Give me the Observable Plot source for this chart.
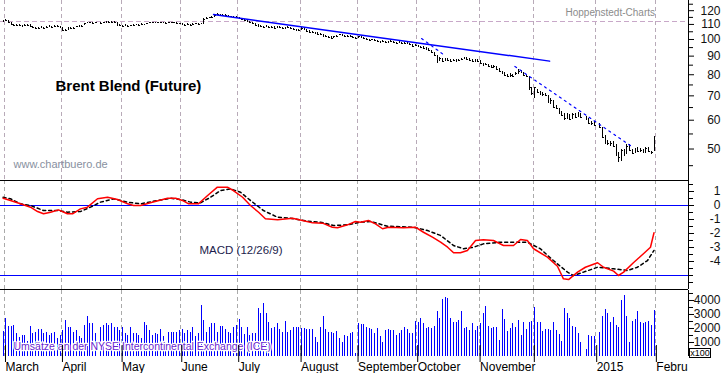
<!DOCTYPE html>
<html><head><meta charset="utf-8">
<script src="https://cdn.jsdelivr.net/npm/d3@7"></script>
<script src="https://cdn.jsdelivr.net/npm/@observablehq/plot@0.6"></script>
<style>
body{margin:0;background:#fff;}
#chart{position:relative;width:723px;height:373px;overflow:hidden;font-family:"Liberation Sans",Arial,sans-serif;background:#fff;}
#chart svg{position:absolute;left:0;overflow:visible;}
#chart svg line{shape-rendering:crispEdges;}
#x100{position:absolute;left:689px;top:348px;width:20px;height:8px;border:1px solid #000;font:9px "Liberation Sans",Arial,sans-serif;line-height:8px;text-align:center;background:#fff;color:#000;}
</style></head><body><div id="chart"></div><script>
// ---- data (one entry per weekday, 2014-02-28 .. 2015-01-30) ----
const closes = [
112.0,112.8,111.3,109.9,109.2,109.6,109.2,108.9,109.2,109.6,
108.9,107.9,107.5,107.2,107.9,107.5,108.2,108.6,108.2,108.6,
108.6,107.9,105.8,106.1,107.2,107.5,107.5,108.6,108.9,108.9,
110.6,111.0,111.3,110.6,111.3,null,110.6,111.0,111.3,111.7,
111.5,111.3,109.6,109.2,108.9,109.2,108.9,109.2,109.6,109.7,
109.6,109.9,109.7,110.6,111.0,111.3,111.0,111.3,111.0,111.3,
110.8,111.3,111.0,111.3,110.4,110.3,109.9,109.6,109.9,109.6,
109.9,110.3,109.9,110.3,113.5,114.2,114.6,115.0,116.4,117.1,
116.8,116.4,116.1,115.7,115.3,115.0,114.6,114.2,113.5,112.8,
112.0,111.0,110.3,109.6,108.6,108.9,108.2,108.6,107.9,108.2,
107.5,108.2,107.9,107.2,107.5,107.9,107.5,106.5,105.8,106.1,
107.2,106.5,105.5,104.8,104.5,103.8,103.5,102.9,102.2,101.9,
101.3,100.9,101.6,102.2,102.9,102.6,101.9,102.2,101.6,101.3,
100.9,101.6,101.0,100.6,100.0,99.4,99.7,99.1,98.7,98.4,
98.7,98.1,98.4,98.7,98.1,97.8,98.1,97.5,97.8,97.2,
96.6,95.7,96.3,95.7,95.1,94.5,93.9,93.3,92.1,90.3,
87.5,88.7,86.9,88.1,87.5,86.9,87.5,86.9,87.5,88.1,
88.7,88.1,87.5,86.9,87.5,86.9,85.9,84.8,85.4,84.3,
83.7,84.3,82.7,81.6,80.6,79.6,79.1,79.6,79.1,80.5,
81.8,80.9,79.5,78.9,73.7,71.2,73.6,71.6,71.0,70.7,
70.1,67.2,67.8,65.2,64.6,62.8,62.0,60.8,62.1,60.2,
62.3,61.0,62.6,61.1,null,60.3,58.7,58.8,58.2,null,
57.3,53.9,51.9,51.9,51.7,50.9,48.1,47.3,49.4,48.4,
50.9,49.6,48.7,49.8,49.2,49.5,48.9,50.3,49.2,48.9,53.8];
const highs = [
112.6,113.4,112.9,111.2,109.9,110.1,109.8,109.6,109.8,110.1,
109.7,108.8,108.1,107.9,108.3,108.1,108.7,109.0,108.8,109.1,
109.0,108.4,107.6,106.7,107.6,107.9,108.0,108.9,109.4,109.3,
110.9,111.5,111.7,111.3,111.7,null,111.2,111.4,111.8,112.1,
112.0,111.9,111.3,109.8,109.5,109.7,109.5,109.6,110.0,110.2,
110.2,110.3,110.2,110.9,111.4,111.7,111.6,111.7,111.5,111.7,
111.5,111.7,111.5,111.7,111.3,110.8,110.5,110.1,110.3,110.1,
110.3,110.7,110.5,110.8,113.9,114.8,115.2,115.4,116.9,117.7,
117.4,117.0,116.8,116.3,115.9,115.6,115.3,114.9,114.3,113.6,
112.9,112.1,111.1,110.5,109.8,109.4,108.9,109.1,108.5,108.7,
108.3,108.6,108.5,108.0,107.9,108.3,108.1,107.4,106.6,106.6,
107.6,107.3,106.6,105.6,105.1,104.6,104.2,103.7,103.0,102.6,
102.1,101.6,101.9,102.6,103.3,103.2,102.7,102.6,102.3,101.9,
101.5,101.9,101.8,101.2,100.7,100.2,100.2,99.8,99.3,99.0,
99.1,98.9,98.8,99.2,98.8,98.4,98.6,98.2,98.3,98.0,
97.5,96.8,96.7,96.5,95.9,95.4,94.8,94.2,93.5,92.3,
90.5,89.4,88.8,88.9,88.6,88.2,88.1,88.0,88.2,88.8,
89.3,89.2,88.5,88.0,88.1,88.0,87.3,86.0,86.0,85.5,
84.8,84.9,84.5,83.0,81.9,80.9,80.3,80.4,80.2,81.2,
82.6,82.3,81.2,79.8,78.9,73.9,73.9,73.0,72.0,71.6,
71.0,70.2,68.7,67.8,66.0,64.7,63.6,62.6,62.6,62.3,
62.7,62.6,63.0,62.6,null,61.5,60.6,59.6,59.4,null,
58.8,57.2,54.3,52.9,52.6,52.5,51.3,48.8,49.9,49.8,
51.6,51.4,50.0,50.2,50.5,50.3,49.9,50.6,50.4,49.3,54.0];
const lows = [
111.5,111.9,110.9,109.5,108.8,109.1,108.8,108.5,108.7,109.1,
108.6,107.5,107.0,106.8,107.3,107.1,107.7,108.1,107.8,108.2,
108.1,107.5,105.2,105.5,106.1,107.0,107.0,107.6,108.4,108.4,
109.0,110.4,110.7,110.2,110.6,null,110.2,110.5,110.8,111.1,
111.0,110.8,109.2,108.7,108.4,108.7,108.5,108.7,109.1,109.3,
109.2,109.4,109.3,109.7,110.5,110.8,110.6,110.9,110.6,110.9,
110.4,110.8,110.6,110.9,110.0,109.8,109.5,109.2,109.5,109.2,
109.5,109.8,109.5,109.8,110.2,113.6,114.0,114.5,115.1,116.3,
116.2,115.9,115.6,115.2,114.8,114.6,114.1,113.7,113.0,112.3,
111.6,110.6,109.9,109.2,108.2,108.4,107.8,108.0,107.5,107.7,
107.0,107.5,107.4,106.8,107.0,107.4,107.0,106.1,105.3,105.5,
106.0,106.1,105.1,104.3,104.0,103.3,103.0,102.4,101.7,101.4,
100.8,100.4,100.9,101.6,102.3,102.1,101.5,101.7,101.1,100.8,
100.4,100.9,100.6,100.1,99.5,98.9,99.2,98.7,98.2,97.9,
98.2,97.6,97.9,98.2,97.6,97.3,97.5,97.0,97.3,96.7,
96.0,95.2,95.6,95.2,94.6,93.9,93.3,92.5,91.5,89.6,
86.0,86.8,86.3,86.9,86.9,86.3,86.8,86.4,86.9,87.4,
87.9,87.5,86.9,86.3,86.7,86.3,85.2,84.2,84.6,83.6,
83.0,83.4,82.0,81.0,80.0,79.0,78.4,78.8,78.5,79.4,
79.9,80.5,79.0,78.4,72.5,70.0,68.8,71.0,70.3,69.8,
69.6,66.9,66.3,64.9,64.2,62.4,61.4,59.9,60.3,59.8,
60.1,60.6,60.9,60.8,null,59.9,58.4,58.0,57.8,null,
56.9,53.7,51.6,51.0,50.9,50.6,47.8,46.0,46.3,47.6,
48.4,49.3,48.3,48.6,48.9,48.9,48.6,48.6,48.9,48.3,49.2];
const volumes = [
1810,2690,2170,2170,2210,1620,1380,1500,1500,1100,
2140,1620,1740,1900,1900,1620,1740,1500,1670,1740,
1260,1500,1860,2570,2100,2100,1740,1860,1400,1300,
2210,2860,2330,2330,1620,0,2100,2210,2330,2200,
2380,2070,2070,1860,2100,1670,1500,2100,1620,1670,
1500,1300,2450,2210,1860,1500,1620,1570,1900,1400,
900,1740,1740,1740,1740,1860,1900,1670,1860,1740,
2070,1450,1620,3640,2570,1740,2100,2380,2380,1740,
2140,2140,1900,1740,1620,2100,2210,2640,2100,1600,
2100,1500,1650,1620,3400,3050,3760,3050,2450,1980,
2100,2330,1900,1740,2500,1740,1860,2100,2100,2100,
1980,1980,1900,1900,1900,1380,1000,2100,2860,1900,
1740,1740,1620,1760,1260,1020,1500,1440,1620,1740,
240,2330,2300,2290,2100,1980,1900,1670,1980,1400,
1020,1860,1900,1860,1860,1500,1670,1860,2070,1900,
1620,1620,2500,2450,2740,2330,1980,2100,1980,2170,
3190,2740,4050,4190,4120,2740,2450,2450,2570,3210,
1980,2100,1860,2330,1860,2140,2330,3100,3570,2140,
1980,2100,2100,1140,3380,2640,1790,1980,2330,2100,
2570,1500,2450,1930,2450,2500,3520,2450,2450,1790,
1900,1900,1860,2400,1860,1570,1070,3450,3100,2740,
2170,2100,1620,1020,0,500,1500,1450,1450,0,
1740,2880,3380,3100,2450,2810,2210,2100,4000,4380,
2880,1020,2500,2640,3220,2450,2330,2450,2500,2210,3260];
// MACD (12/26/9): day index -> value
const macdIdx = [0,2.7,6.4,10.1,12.7,14.9,17.5,20.4,23.7,25.6,28.5,31.1,34.8,38.5,42.2,45.9,48.1,50.7,54.3,60.6,63.6,66.1,68.4,72.0,75.4,79.0,82.7,84.9,88.3,91.2,94.2,96.7,101.2,106.7,110.4,114.1,117.8,121.4,123.3,127.0,129.9,131.8,134.7,137.3,139.9,142.1,147.6,152.0,155.0,158.3,161.3,163.9,166.1,168.6,171.2,174.2,177.1,180.8,184.5,188.2,190.8,193.3,195.6,200.7,204.4,206.6,208.5,211.8,214.7,219.2,221.4,225.1,226.9,228.8,232.4,236.1,238.7,240];
const macdVals = [0.52,0.36,0.12,-0.12,-0.43,-0.59,-0.48,-0.31,-0.59,-0.59,-0.24,-0.12,0.48,0.59,0.43,0.12,0,0,0.19,0.52,0.52,0.36,0.12,0.12,0.71,1.31,1.31,1.07,0.59,0,-0.48,-0.95,-1.02,-0.91,-1.07,-1.24,-1.26,-1.55,-1.59,-1.38,-1.14,-1.19,-1.07,-1.31,-1.66,-1.55,-1.59,-1.55,-1.91,-2.26,-2.62,-2.98,-3.38,-3.38,-3.21,-2.5,-2.45,-2.5,-2.86,-2.86,-2.43,-2.5,-3.09,-3.69,-4.34,-5.24,-5.29,-4.76,-4.41,-4.09,-4.41,-4.69,-5.0,-4.76,-4.09,-3.45,-2.98,-1.95];
const sigIdx = [0,2.7,6.4,10.1,14.9,20.4,23.7,28.5,32.2,35.9,40.7,45.9,50.7,56.9,61.7,65.4,69.1,72.8,76.5,80.2,83.8,87.5,91.2,96.0,101.2,106.0,112.2,117.0,121.8,127.0,131.8,135.5,141.7,151.3,156.5,161.3,166.1,169.8,173.4,177.1,183.4,188.2,193.3,198.1,202.9,208.1,210.3,214.0,219.2,225.1,230.2,233.9,237.6,240];
const sigVals = [0.59,0.48,0.12,0,-0.36,-0.36,-0.48,-0.43,-0.12,0.24,0.48,0.24,0.12,0.36,0.52,0.43,0.24,0.19,0.59,1.07,1.19,0.95,0.36,-0.36,-0.84,-0.91,-1.12,-1.19,-1.43,-1.38,-1.19,-1.14,-1.48,-1.55,-1.79,-2.14,-2.86,-3.09,-2.98,-2.74,-2.62,-2.62,-2.62,-3.09,-3.93,-4.76,-5.0,-4.76,-4.41,-4.52,-4.64,-4.41,-3.93,-3.21];
// trend lines (day index, price)
const trendSolidIdx = [77.6, 201.5];
const trendSolidPrice = [117.1, 87.2];
const trendDotIdx = [188.7, 231.3];
const trendDotPrice = [84.3, 51.1];
const trendDot2Idx = [154.3, 162.4];
const trendDot2Price = [100.6, 90.9];
const refLevel = 112.4;
// axis ticks / labels
const priceTicks = [50,60,70,80,90,100,110,120];
const priceMinor = [45,55,65,75,85,95,105,115,125];
const macdTicks = [1,0,-1,-2,-3,-4];
const macdMinor = [1.5,0.5,-0.5,-1.5,-2.5,-3.5,-4.5,-5,-5.5];
const macdLevels = [0,-5];
const volTicks = [1000,2000,3000,4000];
const volMinor = [500,1500,2500,3500,4500];
const monthLabels = ["March","April","May","June","July","August","September","October","November","","2015","February"];

// ---- scales setup ----
const X_DOMAIN = [-0.97, 252.72];
const PRICE_DOMAIN = [40.97, 127.98];
const MACD_DOMAIN = [-6.0, 1.786];
const VOL_DOMAIN = [0, 4714];
const FONT = "'Liberation Sans', Arial, sans-serif";

const calendar = d3.utcDays(new Date(Date.UTC(2014,1,28)), new Date(Date.UTC(2015,1,3))).filter(d => d.getUTCDay() % 6 !== 0);
const monthBounds = [];
for (let k = 1; k < calendar.length; ++k) if (calendar[k].getUTCMonth() !== calendar[k-1].getUTCMonth()) monthBounds.push(k - 0.5);
const labelOf = new Map(monthBounds.map((b, k) => [b, monthLabels[k]]));

const days = closes.map((c, i) => ({i, date: calendar[i], close: c, high: highs[i], low: lows[i], vol: volumes[i]}));
const bars = days.filter(d => d.close != null);
const macd = macdIdx.map((x, k) => ({x, v: macdVals[k]}));
const signal = sigIdx.map((x, k) => ({x, v: sigVals[k]}));
const trendSolid = trendSolidIdx.map((x, k) => ({x, p: trendSolidPrice[k]}));
const trendDot = trendDotIdx.map((x, k) => ({x, p: trendDotPrice[k]}));
const trendDot2 = trendDot2Idx.map((x, k) => ({x, p: trendDot2Price[k]}));

const common = {width: 723, marginLeft: 0, marginRight: 35, x: {domain: X_DOMAIN, axis: null},
  style: {fontFamily: FONT, fontSize: "12px", background: "transparent", color: "#000", overflow: "visible"}};
const grid = (color) => Plot.ruleX(monthBounds, {x: d => d, stroke: color, strokeDasharray: "4,3"});
const rightLine = Plot.ruleX([X_DOMAIN[1]], {stroke: "#000"});
const axisLabels = (ticks) => Plot.text(ticks, {x: X_DOMAIN[1], y: d => d, text: d => String(d), dx: 32, textAnchor: "end", fontSize: 12, fill: "#111"});
const axisTicks = (ticks, size) => Plot.axisY(ticks, {anchor: "right", tickSize: size, tickFormat: () => "", label: null});

const pricePlot = Plot.plot({...common, height: 180, marginTop: 0, marginBottom: 0,
  y: {type: "log", domain: PRICE_DOMAIN, axis: null},
  marks: [
    grid("#b8aab8"),
    Plot.ruleY([refLevel], {stroke: "#c8a8c8", strokeDasharray: "5,3"}),
    Plot.text(["Hoppenstedt-Charts"], {text: d => d, frameAnchor: "top-left", textAnchor: "start", lineAnchor: "top", dx: 565, dy: 8, fontSize: 10, fill: "#8c8c8c"}),
    Plot.text(["Brent Blend (Future)"], {text: d => d, frameAnchor: "top-left", textAnchor: "start", lineAnchor: "top", dx: 55, dy: 80, fontSize: 15, fontWeight: "bold", fill: "#000"}),
    Plot.text(["www.chartbuero.de"], {text: d => d, frameAnchor: "top-left", textAnchor: "start", lineAnchor: "top", dx: 13, dy: 160, fontSize: 11, fill: "#8890a0"}),
    Plot.ruleX(bars, {x: "i", y1: "low", y2: "high", stroke: "#000"}),
    Plot.ruleY(bars, {y: "close", x1: "i", x2: d => d.i + 0.65, stroke: "#000"}),
    Plot.line(trendSolid, {x: "x", y: "p", stroke: "#0000ff", strokeWidth: 1.5}),
    Plot.line(trendDot, {x: "x", y: "p", stroke: "#0000ff", strokeWidth: 1.2, strokeDasharray: "2,4"}),
    Plot.line(trendDot2, {x: "x", y: "p", stroke: "#0000ff", strokeWidth: 1.2, strokeDasharray: "2,4"}),
    rightLine,
    axisTicks(priceTicks, 5),
    axisTicks(priceMinor, 4),
    axisLabels(priceTicks)
  ]});

const macdPlot = Plot.plot({...common, height: 110, marginTop: 0, marginBottom: 1,
  y: {domain: MACD_DOMAIN, axis: null},
  marks: [
    grid("#aaaaaa"),
    Plot.ruleY(macdLevels, {stroke: "#0000ff"}),
    Plot.ruleY(MACD_DOMAIN, {stroke: "#000"}),
    Plot.text(["MACD (12/26/9)"], {text: d => d, frameAnchor: "top-left", textAnchor: "start", lineAnchor: "top", dx: 199, dy: 65, fontSize: 11.5, fill: "#1c1c4c"}),
    Plot.line(signal, {x: "x", y: "v", stroke: "#000", strokeDasharray: "3,3"}),
    Plot.line(macd, {x: "x", y: "v", stroke: "#ff0000"}),
    rightLine,
    axisTicks(macdTicks, 5),
    axisTicks(macdMinor, 4),
    axisLabels(macdTicks)
  ]});

const volPlot = Plot.plot({...common, height: 83, marginTop: 0, marginBottom: 17,
  y: {domain: VOL_DOMAIN, axis: null},
  marks: [
    grid("#aaaaaa"),
    Plot.ruleX(days.filter(d => d.vol > 0), {x: "i", y1: 0, y2: "vol", stroke: "#0000ff"}),
    Plot.text(["Umsätze an der NYSE Intercontinental Exchange (ICE)"], {text: d => d, frameAnchor: "top-left", textAnchor: "start", lineAnchor: "top", dx: 13, dy: 52, fontSize: 10.5, fill: "#6a1fd0", stroke: "#ffffff", strokeWidth: 2.5, paintOrder: "stroke"}),
    rightLine,
    axisTicks(volTicks, 5),
    axisTicks(volMinor, 4),
    axisLabels(volTicks),
    Plot.axisX(monthBounds, {anchor: "bottom", tickSize: 17, tickPadding: 0, textAnchor: "start", dx: 1, dy: -11, tickFormat: d => labelOf.get(d), label: null, fontSize: 12})
  ]});

const chart = document.getElementById("chart");
pricePlot.style.top = "0px";
macdPlot.style.top = "180px";
volPlot.style.top = "290px";
chart.append(pricePlot, macdPlot, volPlot);

// clip month labels at the right axis (as in the reference)
const svgC = d3.select(volPlot);
svgC.append("defs").append("clipPath").attr("id", "monthclip").append("rect").attr("x", 0).attr("y", 0).attr("width", 688).attr("height", 83);
const labelGroup = svgC.selectAll("g").filter(function() { return (this.getAttribute("aria-label") || "") === "x-axis tick label"; });
labelGroup.each(function() {
  const wrap = svgC.append("g").attr("clip-path", "url(#monthclip)");
  wrap.node().appendChild(this);
});

const box = document.createElement("div");
box.id = "x100"; box.textContent = "x100";
chart.appendChild(box);
</script></body></html>
